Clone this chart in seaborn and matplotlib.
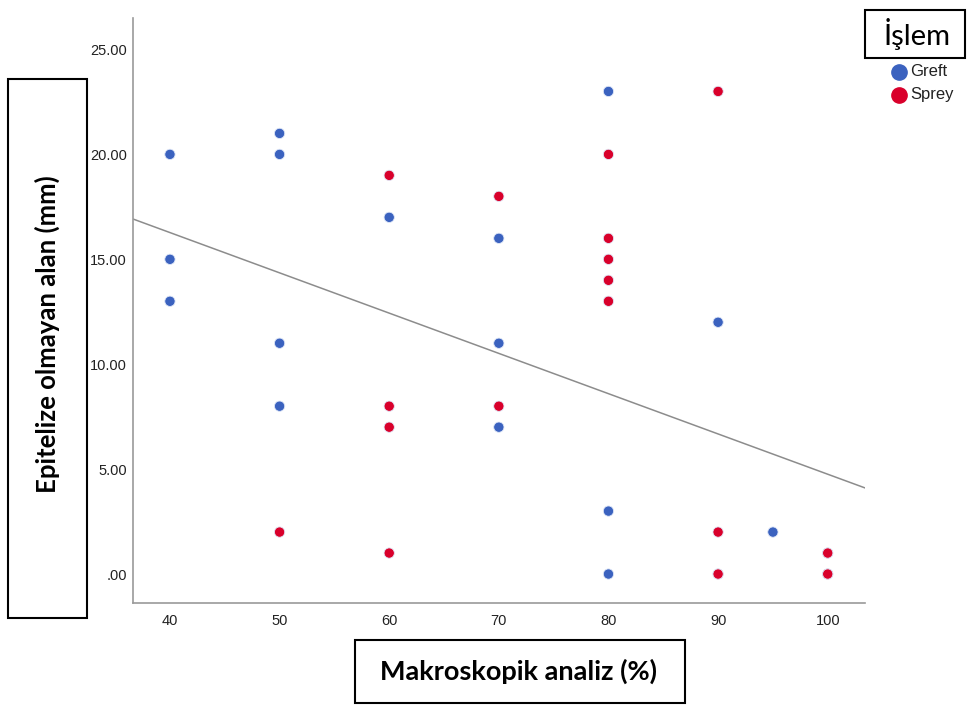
import matplotlib
matplotlib.use("Agg")
import matplotlib.pyplot as plt
import seaborn as sns
import pandas as pd
from matplotlib.patches import Rectangle

# Data (some Sprey points overlap exactly at the bottom right)
greft_x = [40, 40, 40, 50, 50, 50, 50, 60, 70, 70, 70, 80, 80, 80, 90, 95]
greft_y = [20, 15, 13, 21, 20, 11, 8, 17, 16, 11, 7, 23, 3, 0, 12, 2]
sprey_x = [50, 60, 60, 60, 60, 70, 70, 80, 80, 80, 80, 80, 90, 90, 90, 90, 100, 100, 100, 100, 100]
sprey_y = [2, 19, 8, 7, 1, 18, 8, 20, 16, 15, 14, 13, 23, 2, 0, 0, 1, 1, 0, 0, 0]
groups = ["Greft", "Sprey"]
x_ticks = [40, 50, 60, 70, 80, 90, 100]
y_ticks = [0, 5, 10, 15, 20, 25]
y_tick_labels = [".00", "5.00", "10.00", "15.00", "20.00", "25.00"]

df = pd.DataFrame({
    "x": greft_x + sprey_x,
    "y": greft_y + sprey_y,
    "g": [groups[0]] * len(greft_x) + [groups[1]] * len(sprey_x),
})

sns.set_style("white")
plt.rcParams["font.family"] = ["Liberation Sans", "DejaVu Sans"]

fig = plt.figure(figsize=(9.69, 7.07), dpi=100)
ax = fig.add_axes([133 / 969, 1 - 603 / 707, (865 - 133) / 969, (603 - 18) / 707])
ax.set_xlim(36.63, 103.4)
ax.set_ylim(-1.38, 26.5)

palette = {"Greft": "#3b62bf", "Sprey": "#d9002b"}
sns.regplot(data=df, x="x", y="y", scatter=False, ci=None, truncate=False,
            line_kws={"color": "#8c8c8c", "lw": 1.1}, ax=ax)
sns.scatterplot(data=df, x="x", y="y", hue="g", palette=palette, s=55,
                edgecolor="#e0e8f8", linewidth=0.6, ax=ax, legend=False, zorder=3)

ax.set_xticks(x_ticks)
ax.set_xticklabels([str(t) for t in x_ticks], fontsize=10.5, color="#222222")
ax.set_yticks(y_ticks)
ax.set_yticklabels(y_tick_labels, fontsize=10.5, color="#222222")
ax.tick_params(axis="x", length=0, pad=8)
ax.tick_params(axis="y", length=0, pad=4.5)
ax.set_xlabel("")
ax.set_ylabel("")
for s in ["top", "right"]:
    ax.spines[s].set_visible(False)
for s in ["left", "bottom"]:
    ax.spines[s].set_color("#9a9a9a")
    ax.spines[s].set_linewidth(1.2)

W, H = 969, 707
def box(x0, y0, x1, y1):
    r = Rectangle((x0 / W, 1 - y1 / H), (x1 - x0) / W, (y1 - y0) / H,
                  transform=fig.transFigure, fill=False, edgecolor="black", lw=1.5)
    fig.add_artist(r)

box(8, 79, 87, 618)
fig.text(47 / W, 1 - 334 / H, "Epitelize olmayan alan (mm)", rotation=90,
         ha="center", va="center", fontsize=18.5, fontweight="bold", color="black",
         family=["Lato", "DejaVu Sans"])
box(355, 640, 685, 703)
fig.text(518 / W, 1 - 671 / H, "Makroskopik analiz (%)", ha="center", va="center",
         fontsize=19.5, fontweight="bold", color="black", family=["Lato", "DejaVu Sans"])
box(865, 10, 965, 58)
fig.text(917 / W, 1 - 34 / H, "İşlem", ha="center", va="center", fontsize=21,
         color="black", family=["Lato", "DejaVu Sans"])

# legend
for i, g in enumerate(groups):
    yy = 1 - (72 + i * 23) / H
    fig.add_artist(plt.Line2D([899 / W], [yy], marker="o", markersize=11, color=palette[g],
                              markeredgecolor=palette[g], transform=fig.transFigure, linestyle=""))
    fig.text(910 / W, yy, g, ha="left", va="center", fontsize=12, color="#222222")

fig.savefig("out.png", dpi=100)
